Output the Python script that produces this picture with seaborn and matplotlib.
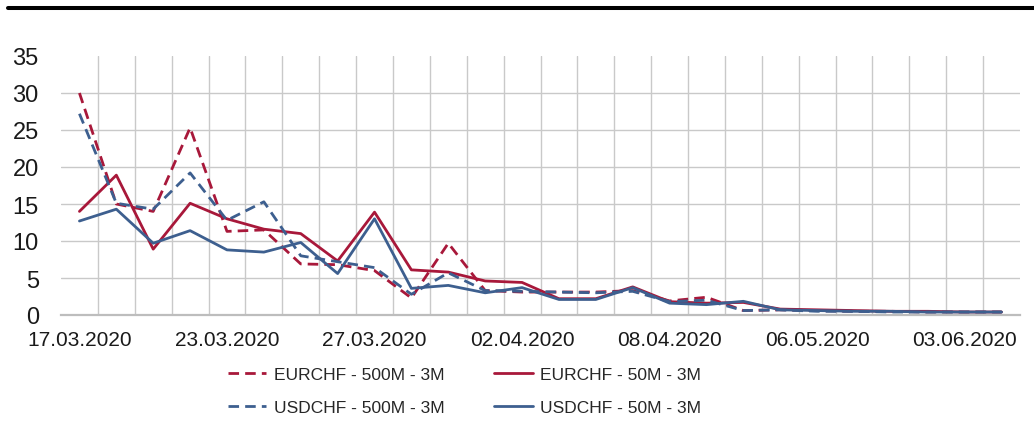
import numpy as np
import pandas as pd
import matplotlib
matplotlib.use("Agg")
import matplotlib.pyplot as plt
from matplotlib.lines import Line2D
import seaborn as sns

# ---- data ----
dates = ['17.03.2020', '18.03.2020', '19.03.2020', '20.03.2020', '23.03.2020', '24.03.2020',
         '25.03.2020', '26.03.2020', '27.03.2020', '30.03.2020', '31.03.2020', '01.04.2020',
         '02.04.2020', '03.04.2020', '06.04.2020', '07.04.2020', '08.04.2020', '15.04.2020',
         '22.04.2020', '29.04.2020', '06.05.2020', '13.05.2020', '20.05.2020', '27.05.2020',
         '03.06.2020', '10.06.2020']
series_names = ['EURCHF - 500M - 3M', 'EURCHF - 50M - 3M', 'USDCHF - 500M - 3M', 'USDCHF - 50M - 3M']
eur_500 = [30.0, 15.0, 14.0, 25.3, 11.3, 11.5, 6.9, 6.8, 6.0, 2.3, 9.7, 3.3, 3.1,
           3.1, 3.1, 3.3, 1.9, 2.4, 0.6, 0.7, 0.6, 0.5, 0.5, 0.4, 0.4, 0.4]
eur_50 = [14.0, 18.9, 8.9, 15.1, 13.0, 11.6, 11.0, 7.3, 13.9, 6.1, 5.8, 4.6, 4.4,
          2.2, 2.2, 3.8, 1.8, 1.6, 1.7, 0.8, 0.7, 0.6, 0.5, 0.5, 0.4, 0.4]
usd_500 = [27.2, 15.1, 14.3, 19.2, 12.8, 15.3, 8.0, 7.2, 6.4, 2.8, 5.7, 3.3, 3.2,
           3.1, 3.0, 3.2, 1.8, 2.0, 0.6, 0.7, 0.5, 0.5, 0.4, 0.4, 0.4, 0.4]
usd_50 = [12.7, 14.3, 9.7, 11.4, 8.8, 8.5, 9.8, 5.6, 13.0, 3.6, 4.0, 3.0, 3.7,
          2.1, 2.1, 3.7, 1.6, 1.4, 1.85, 0.7, 0.6, 0.5, 0.5, 0.4, 0.4, 0.4]
label_every = 4
y_ticks = [0, 5, 10, 15, 20, 25, 30, 35]

# ---- build long table ----
values = [eur_500, eur_50, usd_500, usd_50]
frames = []
for name, vals in zip(series_names, values):
    frames.append(pd.DataFrame({'idx': np.arange(len(dates)), 'value': vals, 'series': name}))
df = pd.concat(frames, ignore_index=True)

sns.set_style('white')
plt.rcParams['font.family'] = ['Liberation Sans', 'DejaVu Sans']

RED = '#A8183A'
BLUE = '#3D5F8F'
palette = {series_names[0]: RED, series_names[1]: RED,
           series_names[2]: BLUE, series_names[3]: BLUE}
dash = (3.8, 2.2)
dashes = {series_names[0]: dash, series_names[1]: '',
          series_names[2]: dash, series_names[3]: ''}

fig = plt.figure(figsize=(10.34, 4.27), dpi=100)
ax = fig.add_axes([61 / 1034, 1 - 316 / 427, (1020 - 61) / 1034, (316 - 57) / 427])

sns.lineplot(data=df, x='idx', y='value', hue='series', style='series',
             hue_order=series_names, style_order=series_names,
             palette=palette, dashes=dashes, linewidth=2.0, ax=ax, legend=True)

handles, labels = ax.get_legend_handles_labels()
ax.get_legend().remove()

ax.set_xlim(-0.5, len(dates) - 0.5)
ax.set_ylim(0, 35)
ax.set_yticks(y_ticks)
ax.set_yticklabels([str(v) for v in y_ticks])
major = list(range(0, len(dates), label_every))
ax.set_xticks(major)
ax.set_xticklabels([dates[i] for i in major])
ax.set_xticks(np.arange(0.5, len(dates) - 1, 1), minor=True)
ax.set_xlabel('')
ax.set_ylabel('')

ax.grid(False)
ax.grid(which='minor', axis='x', color='#c9c9c9', lw=1.0)
ax.grid(which='major', axis='y', color='#c9c9c9', lw=1.0)
for gl in ax.get_ygridlines():
    if abs(gl.get_ydata()[0] - 35) < 1e-6:
        gl.set_visible(False)
ax.set_axisbelow(True)

for s in ['top', 'right', 'left']:
    ax.spines[s].set_visible(False)
ax.spines['bottom'].set_color('#bdbdbd')
ax.spines['bottom'].set_linewidth(1.6)

ax.tick_params(axis='both', which='both', length=0)
ax.tick_params(axis='y', labelsize=17, pad=16, labelcolor='#1a1a1a')
ax.tick_params(axis='x', labelsize=15, pad=11, labelcolor='#1a1a1a')

order = [0, 2, 1, 3]
h = [handles[i] for i in order]
l = [labels[i] for i in order]
fig.legend(h, l, ncol=2, loc='center', bbox_to_anchor=(464.5 / 1034, 1 - 392 / 427),
           frameon=False, borderpad=0, handlelength=2.2, handletextpad=0.45,
           columnspacing=2.9, labelspacing=1.05,
           prop={'family': ['Liberation Sans', 'DejaVu Sans'], 'size': 12.5})

fig.add_artist(Line2D([8 / 1034, 1.0], [1 - 8.7 / 427] * 2, color='black', lw=2.9,
                      transform=fig.transFigure))

fig.savefig('out.png', dpi=100)
